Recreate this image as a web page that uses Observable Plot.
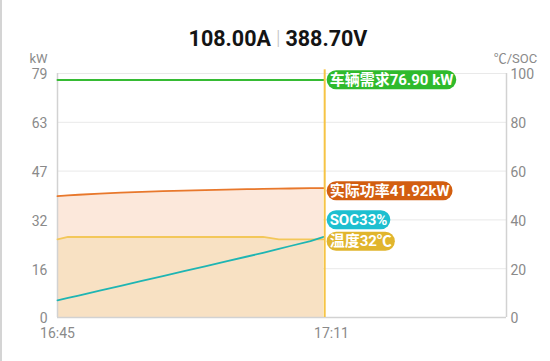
<!DOCTYPE html>
<html><head><meta charset="utf-8">
<script src="https://cdn.jsdelivr.net/npm/d3@7"></script>
<script src="https://cdn.jsdelivr.net/npm/@observablehq/plot@0.6"></script>
<style>
body{margin:0;background:#fff;}
#wrap{position:relative;width:550px;height:361px;overflow:hidden;background:#fff;}
#wrap svg{position:absolute;left:0;top:0;}
#border{position:absolute;left:0;top:0;bottom:0;width:2px;background:#d4d4d4;}
#title{position:absolute;left:3px;width:550px;top:26px;line-height:20px;text-align:center;font:bold 21.5px Roboto,"Noto Sans CJK SC",sans-serif;color:#141414;white-space:nowrap;}
#title .sep{color:#c4c4c4;font-weight:300;font-size:20px;margin:0 5px;position:relative;top:-1px;}
</style></head><body>
<div id="wrap"><div id="border"></div><div id="title"></div></div>
<script>
// ---- data ----
const currentA = "108.00A";
const voltageV = "388.70V";
const timeTicks = [0, 26];            // minutes after 16:45
const timeLabels = ["16:45", "17:11"];
const minutes   = [0, 1, 2, 4, 6, 8, 10, 12, 14, 16, 18, 19.5, 21, 22, 24, 25.25];
const demandKW  = [76.9, 76.9, 76.9, 76.9, 76.9, 76.9, 76.9, 76.9, 76.9, 76.9, 76.9, 76.9, 76.9, 76.9, 76.9, 76.9];
const powerKW   = [39.3, 39.55, 39.75, 40.1, 40.4, 40.65, 40.9, 41.1, 41.25, 41.4, 41.55, 41.62, 41.72, 41.77, 41.86, 41.92];
const socPct    = [7, 8, 9, 11, 13, 15, 17, 19, 21, 23, 25, 26.5, 28.1, 29.2, 31.3, 33];
const tempC     = [32, 33, 33, 33, 33, 33, 33, 33, 33, 33, 33, 33, 32, 32, 32, 32];
const kwTickLabels = ["0", "16", "32", "47", "63", "79"];
const rightTickLabels = ["0", "20", "40", "60", "80", "100"];
const kwMax = 79;
const xMax = 42.6;
const labelNames = ["车辆需求", "实际功率", "SOC", "温度"];
const labelValues = ["76.90 kW", "41.92kW", "33%", "32℃"];
const leftUnit = "kW";
const rightUnit = "℃/SOC";

// ---- styles ----
const C = {
  demand: "#36bb34", power: "#e8782c", soc: "#1fb5b3", temp: "#f3c75a",
  powerFill: "#fce8db", tempFill: "#f8e1c3", cursor: "#f6c445",
  grid: "#e9e9e9", axis: "#d2d2d2", tick: "#8a8a8a"
};
const pillColors = ["#2fba2c", "#d25e10", "#1ebfd0", "#e1b52d"];
const pillDy = [0, 3, -17, 2];
const FONT = 'Roboto, "Noto Sans CJK SC", sans-serif';

// ---- build ----
const toKW = v => v * kwMax / 100;
const data = minutes.map((t, i) => ({
  t, demand: demandKW[i], power: powerKW[i], soc: toKW(socPct[i]), temp: toKW(tempC[i])
}));
const tickPos = rightTickLabels.map(d => toKW(+d));
const tEnd = minutes[minutes.length - 1];
const labelVals = [demandKW.at(-1), powerKW.at(-1), toKW(socPct.at(-1)), toKW(tempC.at(-1))];
const labels = labelNames.map((n, i) => ({ text: n + labelValues[i], y: labelVals[i], i }));

const plot = Plot.plot({
  width: 550, height: 361,
  marginLeft: 57, marginRight: 44, marginTop: 73, marginBottom: 44,
  style: { fontFamily: FONT, background: "transparent", overflow: "visible" },
  x: { domain: [0, xMax] },
  y: { domain: [0, kwMax] },
  marks: [
    Plot.ruleY(tickPos, { stroke: C.grid, strokeWidth: 1 }),
    Plot.areaY(data, { x: "t", y: "power", fill: C.powerFill }),
    Plot.areaY(data, { x: "t", y: "temp", fill: C.tempFill }),
    Plot.ruleY([0], { stroke: C.axis, strokeWidth: 1.5 }),
    Plot.ruleX([0, xMax], { stroke: C.axis, strokeWidth: 1.5 }),
    Plot.lineY(data, { x: "t", y: "power", stroke: C.power, strokeWidth: 1.8 }),
    Plot.lineY(data, { x: "t", y: "temp", stroke: C.temp, strokeWidth: 1.8 }),
    Plot.lineY(data, { x: "t", y: "soc", stroke: C.soc, strokeWidth: 1.8 }),
    Plot.lineY(data, { x: "t", y: "demand", stroke: C.demand, strokeWidth: 2 }),
    Plot.ruleX([tEnd + 0.1], { y1: 0, y2: kwMax * 1.015, stroke: C.cursor, strokeWidth: 2 }),
    Plot.axisY(tickPos, { anchor: "left", tickSize: 0, tickPadding: 10, fontSize: 14, fill: C.tick, dy: 1.5,
      tickFormat: (d, i) => kwTickLabels[i], label: null }),
    Plot.axisY(tickPos, { anchor: "right", tickSize: 0, tickPadding: 4, fontSize: 14, fill: C.tick, dy: 1.5,
      tickFormat: (d, i) => rightTickLabels[i], label: null }),
    Plot.axisX(timeTicks, { tickSize: 0, tickPadding: 11, fontSize: 14, fill: C.tick,
      tickFormat: (d, i) => timeLabels[i], label: null }),
    Plot.text([leftUnit], { frameAnchor: "top-left", dx: -10, dy: -20, textAnchor: "end", fontSize: 13, fill: C.tick }),
    Plot.text([rightUnit], { frameAnchor: "top-right", dx: 9, dy: -20, textAnchor: "middle", fontSize: 13, fill: C.tick }),
    Plot.text(labels, { x: () => tEnd, y: "y", text: "text", dx: 6, textAnchor: "start",
      fill: "white", fontWeight: "bold", fontSize: 15 })
  ]
});
document.getElementById("wrap").appendChild(plot);
document.getElementById("title").innerHTML = currentA + '<span class="sep">|</span>' + voltageV;

// pill backgrounds + vertical offsets
const labelTexts = labels.map(d => d.text);
Array.from(plot.querySelectorAll("text")).forEach(t => {
  const k = labelTexts.indexOf(t.textContent);
  if (k < 0) return;
  const dy = pillDy[k] || 0;
  const tr = (t.getAttribute("transform") || "") + ` translate(0,${dy})`;
  t.setAttribute("transform", tr);
  const bb = t.getBBox();
  const r = document.createElementNS("http://www.w3.org/2000/svg", "rect");
  const h = 19;
  r.setAttribute("x", bb.x - 3);
  r.setAttribute("y", bb.y + bb.height / 2 - h / 2);
  r.setAttribute("width", bb.width + 6);
  r.setAttribute("height", h);
  r.setAttribute("rx", 9.5);
  r.setAttribute("fill", pillColors[k]);
  r.setAttribute("transform", tr);
  t.parentNode.insertBefore(r, t);
});
</script>
</body></html>
